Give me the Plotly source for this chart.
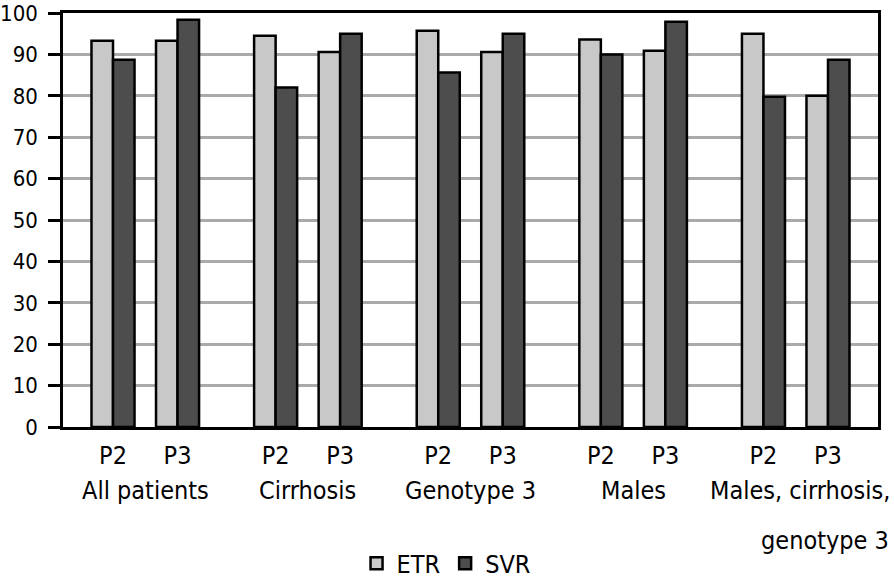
import plotly.graph_objects as go

groups = ["All patients", "Cirrhosis", "Genotype 3", "Males", "Males, cirrhosis, genotype 3"]
periods = ["P2", "P3"]
etr = [93.3, 93.3, 94.5, 90.6, 95.7, 90.6, 93.6, 90.9, 95.0, 80.0]
svr = [88.7, 98.4, 82.0, 95.0, 85.6, 95.0, 90.0, 97.9, 79.8, 88.7]
y_ticks = [0, 10, 20, 30, 40, 50, 60, 70, 80, 90, 100]

GROUP_STEP = 2.52
FONT = "DejaVu Sans Condensed, Liberation Sans Narrow, DejaVu Sans"
FS = 25

xs, labels = [], []
for g in range(len(groups)):
    for s, p in enumerate(periods):
        xs.append(g * GROUP_STEP + s)
        labels.append(p)

fig = go.Figure()
fig.add_trace(go.Bar(x=xs, y=etr, name="ETR",
                     marker=dict(color="#c8c8c8", line=dict(color="black", width=2.5))))
fig.add_trace(go.Bar(x=xs, y=svr, name="SVR",
                     marker=dict(color="#4d4d4d", line=dict(color="black", width=2.5))))

annotations = []
for g, name in enumerate(groups[:-1]):
    annotations.append(dict(x=g * GROUP_STEP + 0.5, y=0, xref="x", yref="paper",
                            text=name, showarrow=False, yanchor="middle", yshift=-63,
                            font=dict(family=FONT, size=FS, color="black")))
line1, line2 = "Males, cirrhosis,", "genotype 3"
annotations.append(dict(x=1, y=0, xref="paper", yref="paper", text=line1, showarrow=False,
                        xanchor="right", yanchor="middle", yshift=-63, xshift=14,
                        font=dict(family=FONT, size=FS, color="black")))
annotations.append(dict(x=1, y=0, xref="paper", yref="paper", text=line2, showarrow=False,
                        xanchor="right", yanchor="middle", yshift=-113, xshift=13,
                        font=dict(family=FONT, size=FS, color="black")))

fig.update_layout(
    width=894, height=578,
    margin=dict(l=63, r=16, t=13, b=151, autoexpand=False),
    paper_bgcolor="white", plot_bgcolor="white",
    barmode="group", bargap=0.333, bargroupgap=0,
    font=dict(family=FONT, size=FS, color="black"),
    showlegend=True,
    legend=dict(orientation="h", x=0.47, xanchor="center", y=-0.33, yanchor="middle",
                font=dict(family=FONT, size=FS, color="black"), itemwidth=30),
    annotations=annotations,
)
fig.update_xaxes(range=[-0.775, 4 * GROUP_STEP + 1 + 0.775], tickvals=xs, ticktext=labels,
                 showline=True, linecolor="black", linewidth=2.5, mirror=True,
                 ticks="", showgrid=False, zeroline=False, ticklabelstandoff=4,
                 automargin=False,
                 tickfont=dict(family=FONT, size=FS, color="black"))
fig.update_yaxes(range=[0, 100.001], tickvals=y_ticks, showline=True, linecolor="black",
                 linewidth=2.5, mirror=True, ticks="outside", ticklen=12, tickwidth=2.5,
                 tickcolor="black", showgrid=True, gridcolor="#aaaaaa", gridwidth=2.5,
                 zeroline=False, ticklabelstandoff=6, automargin=False,
                 ticklabeloverflow="allow",
                 tickfont=dict(family=FONT, size=22, color="black"))

fig.write_html("out.html", config={"displayModeBar": False},
               post_script="document.body.style.margin='0';")
